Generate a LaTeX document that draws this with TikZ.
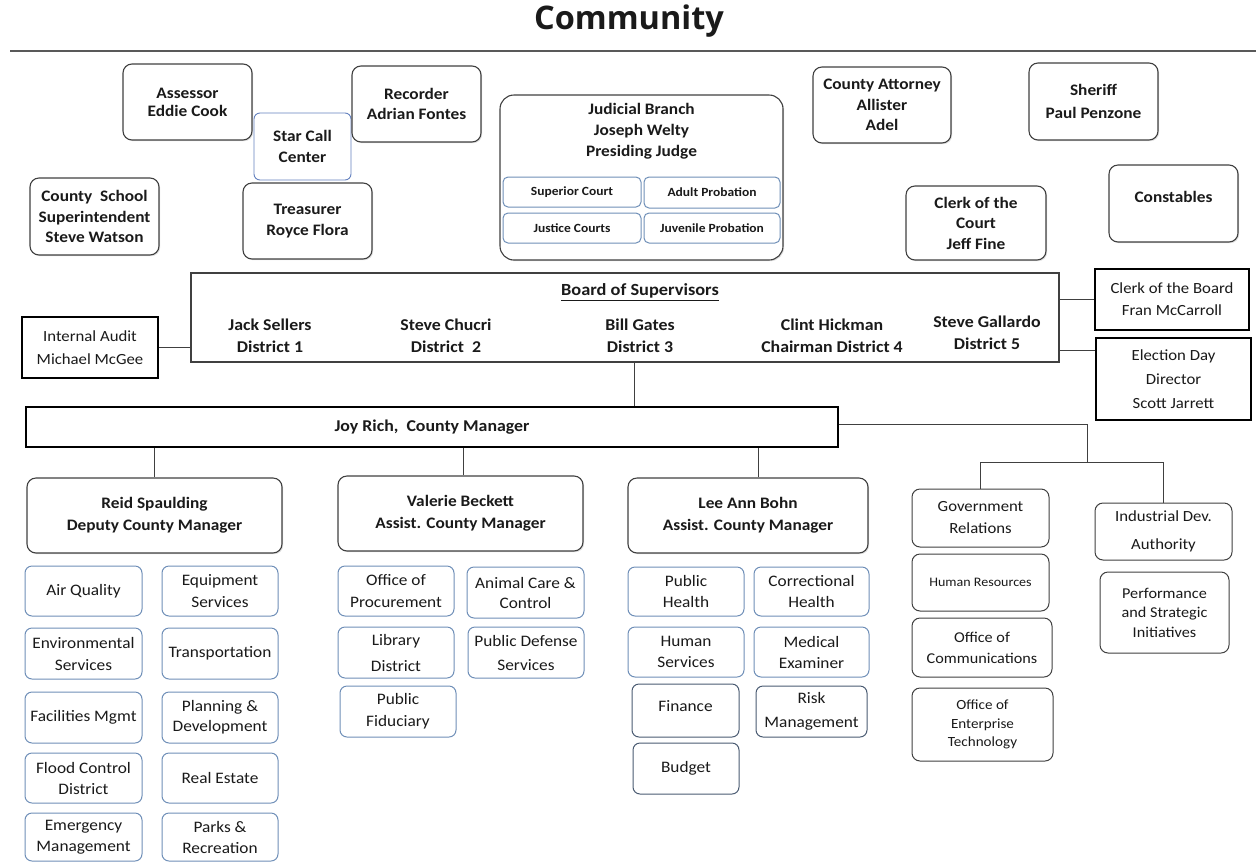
\documentclass[tikz,border=0pt]{standalone}
\usepackage{fontspec}
\setmainfont{Carlito}[FakeStretch=1.08]
\newfontfamily\titlefont{Open Sans}
\usetikzlibrary{calc,shadows}
\definecolor{edge}{HTML}{404040}
\definecolor{subblue}{HTML}{6F8FB8}
\definecolor{darkblue}{HTML}{4A5B72}
\definecolor{ink}{HTML}{1A1A1A}
\newcommand\bx[7]{\node[#2, minimum width={(#5)-(#3)}, minimum height={(#6)-(#4)}] (#1) at ({((#3)+(#5))/2},{((#4)+(#6))/2}) {#7};}
\newcommand\fs[2]{\fontsize{#1}{#2}\selectfont}
\begin{document}
\begin{tikzpicture}[x=1pt,y=-1pt,
  base/.style={inner sep=0pt, align=center, text=ink},
  shade/.style={drop shadow={shadow xshift=1.2pt, shadow yshift=-1.2pt, opacity=0.25}},
  mainbox/.style={base, shade, draw=edge, line width=1.1pt, rounded corners=9pt, fill=white, font=\fs{16}{20.5}\bfseries},
  subbox/.style={base, draw=subblue, line width=1pt, rounded corners=7pt, fill=white, font=\fs{16}{22}},
  darkbox/.style={subbox, draw=darkblue},
  greybox/.style={base, draw=edge, line width=1pt, rounded corners=8pt, fill=white, font=\fs{15}{21}},
  sqbox/.style={base, draw=black, line width=1.2pt, fill=white, font=\fs{15.5}{23}},
  btext/.style={base, font=\fs{16.5}{22}\bfseries},
  conn/.style={draw=edge, line width=1pt}]
\useasboundingbox (0,0) rectangle (1256,863);

% title
\node[base, font=\titlefont\fontsize{32.5}{38}\selectfont\bfseries] (title) at (629,21) {Community};
\draw[draw=black!65, line width=1.4pt] (10,51) -- (1256,51);

% top row
\bx{star}{subbox, draw=subblue!90!blue, line width=0.9pt, rounded corners=6pt, font=\fs{16}{21}\bfseries}{254}{113}{351}{180}{Star Call\\Center}
\bx{asr}{mainbox, font=\fs{16}{18}\bfseries}{123}{64}{252}{140}{Assessor\\Eddie Cook}
\bx{rec}{mainbox}{352}{66}{481}{142}{Recorder\\Adrian Fontes}
\bx{css}{mainbox}{30}{178}{159}{255}{County\ \ School\\Superintendent\\Steve Watson}
\bx{tre}{mainbox}{243}{183}{372}{259}{Treasurer\\Royce Flora}

\bx{jud}{mainbox, rounded corners=14pt}{500}{95}{783}{260}{}
\node[btext, font=\fs{16}{21}\bfseries] (jt) at (641.5,131) {Judicial Branch\\Joseph Welty\\Presiding Judge};
\bx{sup}{subbox, rounded corners=5pt, font=\fs{12.5}{15}\bfseries}{503}{177}{641}{207}{Superior Court}
\bx{adp}{subbox, rounded corners=5pt, font=\fs{12.5}{15}\bfseries}{644}{177}{780}{208}{Adult Probation}
\bx{jus}{subbox, rounded corners=5pt, font=\fs{12.5}{15}\bfseries}{503}{213}{641}{243}{Justice Courts}
\bx{juv}{subbox, rounded corners=5pt, font=\fs{12.5}{15}\bfseries}{644}{213}{780}{243}{Juvenile Probation}

\bx{cat}{mainbox}{813}{67}{951}{143}{County Attorney\\Allister\\Adel}
\bx{shf}{mainbox, font=\fs{16}{23}\bfseries}{1029}{63}{1158}{140}{Sheriff\\Paul Penzone}
\bx{cct}{mainbox}{906}{186}{1046}{260}{Clerk of the\\Court\\Jeff Fine}
\bx{con}{mainbox, text depth=14pt}{1109}{165}{1238}{242}{Constables}

% board
\bx{brd}{base, shade, draw=edge, line width=2pt, fill=white}{191}{273}{1059}{362}{}
\node[btext, font=\fs{17}{22}\bfseries] (bos) at (640,292) {\underline{Board of Supervisors}};
\node[btext] (m1) at (270,336) {Jack Sellers\\District 1};
\node[btext] (m2) at (446,336) {Steve Chucri\\District\ \ 2};
\node[btext] (m3) at (640,336) {Bill Gates\\District 3};
\node[btext] (m4) at (832,336) {Clint Hickman\\Chairman District 4};
\node[btext] (m5) at (987,333) {Steve Gallardo\\District 5};

\bx{ia}{sqbox}{22}{317}{158}{378}{Internal Audit\\Michael McGee}
\bx{cob}{sqbox, font=\fs{15.5}{22}}{1095}{269}{1249}{330}{Clerk of the Board\\Fran McCarroll}
\bx{edd}{sqbox, line width=2.2pt, font=\fs{15.5}{24}}{1096}{338}{1251}{420}{Election Day\\Director\\Scott Jarrett}

\bx{joy}{base, draw=black, line width=1.4pt, fill=white, font=\fs{16.5}{20}\bfseries}{26}{407}{838}{447}{Joy Rich,\ \ County Manager}

% managers
\bx{reid}{mainbox, font=\fs{16}{22}\bfseries}{27}{478}{282}{553}{Reid Spaulding\\Deputy County Manager}
\bx{val}{mainbox, font=\fs{16}{22}\bfseries}{338}{476}{583}{551}{Valerie Beckett\\Assist. County Manager}
\bx{lee}{mainbox, font=\fs{16}{22}\bfseries}{628}{478}{868}{553}{Lee Ann Bohn\\Assist. County Manager}

% Reid departments
\bx{aq}{subbox}{25}{566}{142}{616}{Air Quality}
\bx{eqs}{subbox}{162}{566}{278}{616}{Equipment\\Services}
\bx{env}{subbox}{25}{628}{142}{679}{Environmental\\Services}
\bx{trn}{subbox}{162}{628}{278}{679}{Transportation}
\bx{fac}{subbox}{25}{692}{142}{743}{Facilities Mgmt}
\bx{pla}{subbox, font=\fs{16}{20}}{162}{692}{278}{743}{Planning \&\\Development}
\bx{flo}{subbox, font=\fs{16}{21}}{25}{753}{142}{803}{Flood Control\\District}
\bx{res}{subbox}{162}{753}{278}{803}{Real Estate}
\bx{emg}{subbox, font=\fs{16}{21}}{25}{813}{142}{861}{Emergency\\Management}
\bx{par}{subbox, font=\fs{16}{21}}{162}{813}{278}{861}{Parks \&\\Recreation}

% Valerie departments
\bx{ofp}{subbox}{338}{566}{454}{616}{Office of\\Procurement}
\bx{acc}{subbox, font=\fs{16}{20}}{467}{567}{584}{618}{Animal Care \&\\Control}
\bx{lib}{subbox, font=\fs{16}{26}}{338}{627}{454}{678}{Library\\District}
\bx{pds}{subbox, font=\fs{16}{24}}{468}{627}{584}{678}{Public Defense\\Services}
\bx{pfi}{subbox}{340}{686}{456}{737}{Public\\Fiduciary}

% Lee Ann departments
\bx{pbh}{subbox, font=\fs{16}{21}}{628}{567}{744}{616}{Public\\Health}
\bx{crh}{subbox, font=\fs{16}{21}}{754}{567}{869}{616}{Correctional\\Health}
\bx{hus}{subbox, font=\fs{16}{21}}{628}{627}{744}{677}{Human\\Services}
\bx{mex}{subbox, font=\fs{16}{21}}{754}{627}{869}{677}{Medical\\Examiner}
\bx{fin}{darkbox, text depth=10pt}{632}{684}{739}{737}{Finance}
\bx{rsk}{darkbox, font=\fs{16}{24}}{756}{686}{867}{737}{Risk\\Management}
\bx{bud}{darkbox}{633}{743}{739}{794}{Budget}

% right group
\bx{gov}{greybox, font=\fs{15.5}{22}}{912}{489}{1049}{547}{Government\\Relations}
\bx{hr}{greybox, font=\fs{13}{16}}{912}{554}{1049}{611}{Human Resources}
\bx{ooc}{greybox}{912}{618}{1052}{677}{Office of\\Communications}
\bx{oet}{greybox, font=\fs{14}{18.5}}{912}{688}{1053}{761}{Office of\\Enterprise\\Technology}
\bx{ind}{greybox, font=\fs{15.5}{28}}{1095}{503}{1232}{560}{Industrial Dev.\\Authority}
\bx{psi}{greybox, font=\fs{15}{19.5}}{1100}{572}{1229}{653}{Performance\\and Strategic\\Initiatives}

% connectors
\draw[conn] (ia.east) -- (ia.east -| brd.west);
\draw[conn] (cob.west) -- (cob.west -| brd.east);
\draw[conn] ([yshift=-32.5pt]brd.east) -- ([yshift=-32.5pt]brd.east -| edd.west);
\draw[conn] ([xshift=9pt]brd.south) -- ([xshift=9pt]brd.south |- joy.north);
\draw[conn] (reid.north) -- (reid.north |- joy.south);
\draw[conn] ([xshift=2.5pt]val.north) -- ([xshift=2.5pt]val.north |- joy.south);
\draw[conn] ([xshift=10pt]lee.north) -- ([xshift=10pt]lee.north |- joy.south);
\coordinate (br) at (1087,462);
\draw[conn] ([yshift=3pt]joy.east) -| (br);
\draw[conn] (gov.north) -- (gov.north |- br) -- (ind.north |- br) -- (ind.north);
\end{tikzpicture}
\end{document}
